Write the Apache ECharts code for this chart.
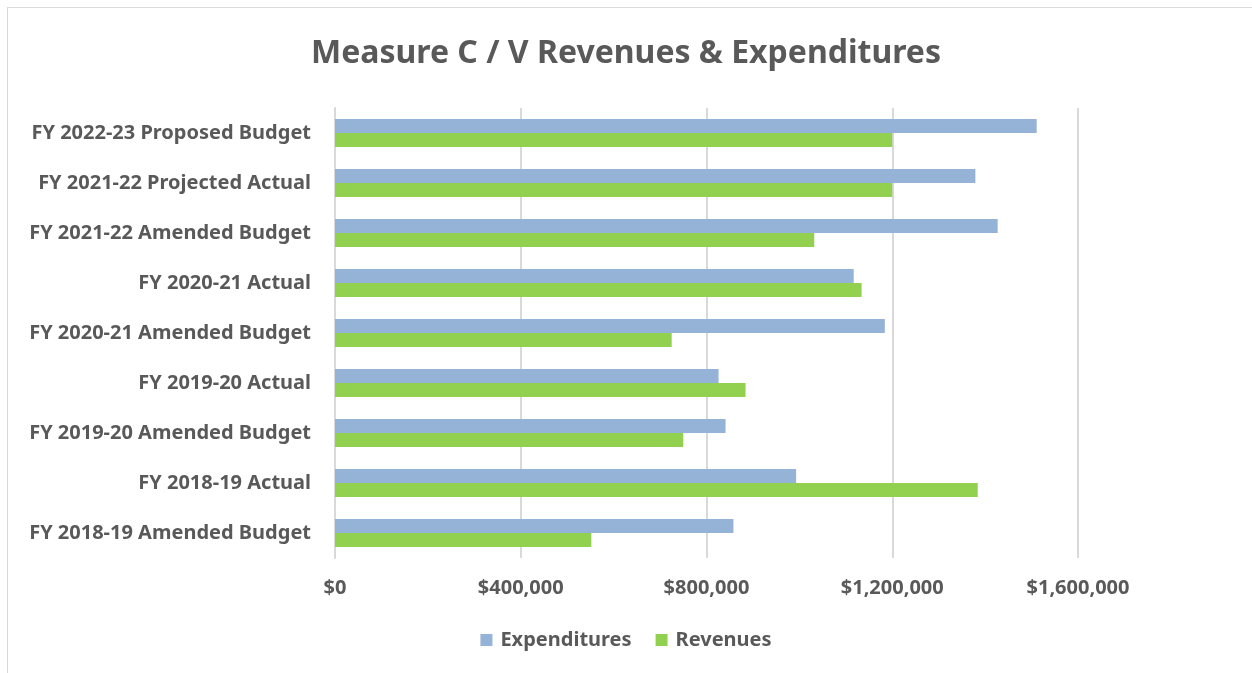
<!DOCTYPE html>
<html>
<head>
<meta charset="utf-8">
<title>Measure C / V Revenues & Expenditures</title>
<script src="https://cdn.jsdelivr.net/npm/echarts@6/dist/echarts.min.js"></script>
<style>
  body { margin: 0; background: #fff; overflow: hidden; }
  #main { position: absolute; left: 0; top: 0; width: 1252px; height: 673px; }
  #frame { position: absolute; left: 7px; top: 7px; width: 1300px; height: 700px; border: 1px solid #d9d9d9; pointer-events: none; }
</style>
</head>
<body>
<div id="main"></div>
<div id="frame"></div>
<script>
  // categories, top to bottom as in the picture
  var categories = [
    'FY 2022-23 Proposed Budget',
    'FY 2021-22 Projected Actual',
    'FY 2021-22 Amended Budget',
    'FY 2020-21 Actual',
    'FY 2020-21 Amended Budget',
    'FY 2019-20 Actual',
    'FY 2019-20 Amended Budget',
    'FY 2018-19 Actual',
    'FY 2018-19 Amended Budget'
  ];
  var expenditures = [1511000, 1379000, 1427000, 1117000, 1184000, 826000, 841000, 993000, 858000];
  var revenues = [1200000, 1200000, 1032000, 1134000, 725000, 884000, 750000, 1384000, 552000];
  var xTicks = [0, 400000, 800000, 1200000, 1600000];

  var font = '"Noto Sans", "Open Sans", sans-serif';
  var grey = '#595959';

  var myChart = echarts.init(document.getElementById('main'));

  var option = {
    backgroundColor: '#fff',
    title: {
      text: 'Measure C / V Revenues & Expenditures',
      left: 'center',
      top: 33,
      textStyle: { fontFamily: font, fontSize: 32, fontWeight: 'bold', color: grey }
    },
    legend: {
      data: ['Expenditures', 'Revenues'],
      bottom: 18,
      left: 'center',
      icon: 'rect',
      itemWidth: 12,
      itemHeight: 12,
      itemGap: 24,
      textStyle: { fontFamily: font, fontSize: 20, fontWeight: 'bold', color: grey, padding: [0, 0, 0, 3] }
    },
    grid: {
      left: 335,
      right: 174,
      top: 108,
      bottom: 115,
      containLabel: false
    },
    xAxis: {
      type: 'value',
      min: xTicks[0],
      max: xTicks[xTicks.length - 1],
      interval: xTicks[1] - xTicks[0],
      axisLine: { show: false },
      axisTick: { show: false },
      splitLine: { lineStyle: { color: '#d9d9d9', width: 2 } },
      axisLabel: {
        margin: 20,
        fontFamily: font,
        fontSize: 20,
        fontWeight: 'bold',
        color: grey,
        formatter: function (v) { return '$' + v.toLocaleString('en-US'); }
      }
    },
    yAxis: {
      type: 'category',
      inverse: true,
      data: categories,
      axisLine: { show: true, lineStyle: { color: '#d9d9d9', width: 2 } },
      axisTick: { show: false },
      axisLabel: {
        margin: 24,
        fontFamily: font,
        fontSize: 20,
        fontWeight: 'bold',
        color: grey
      }
    },
    series: [
      {
        name: 'Expenditures',
        type: 'bar',
        data: expenditures,
        barWidth: 14,
        barGap: '0%',
        itemStyle: { color: '#95b3d7' }
      },
      {
        name: 'Revenues',
        type: 'bar',
        data: revenues,
        barWidth: 14,
        barGap: '0%',
        itemStyle: { color: '#92d050' }
      }
    ]
  };

  myChart.setOption(option);
</script>
</body>
</html>
